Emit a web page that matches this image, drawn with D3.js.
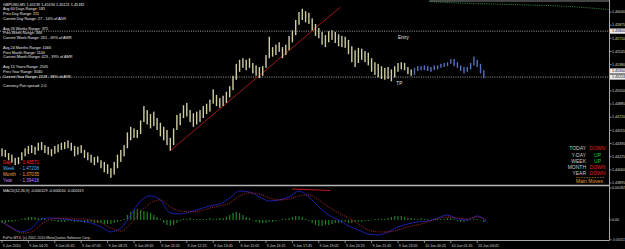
<!DOCTYPE html>
<html>
<head>
<meta charset="utf-8">
<script src="https://cdn.jsdelivr.net/npm/d3@7"></script>
<style>
  html, body { margin: 0; padding: 0; background: #000; }
  svg { display: block; font-family: "Liberation Sans", Arial, sans-serif; }
</style>
</head>
<body>
<svg id="chart" width="625" height="249"></svg>
<script>
// 10 minute bars, starting 9 Jun 2010 03:05
const barHigh = [
  1.4433,1.4431,1.4427,1.4425,1.4421,1.4422,1.4428,1.4433,1.4436,1.4437,
  1.4435,1.4440,1.4441,1.4437,1.4435,1.4432,1.4436,1.4438,1.4440,1.4441,
  1.4443,1.4440,1.4436,1.4435,1.4437,1.4431,1.4428,1.4425,1.4422,1.4423,
  1.4418,1.4416,1.4413,1.4408,1.4416,1.4425,1.4431,1.4437,1.4453,1.4460,
  1.4458,1.4456,1.4468,1.4486,1.4481,1.4476,1.4479,1.4471,1.4465,1.4460,
  1.4456,1.4446,1.4458,1.4475,1.4477,1.4487,1.4490,1.4481,1.4477,1.4479,
  1.4481,1.4486,1.4489,1.4494,1.4507,1.4500,1.4496,1.4499,1.4504,1.4511,
  1.4524,1.4539,1.4544,1.4546,1.4544,1.4546,1.4540,1.4537,1.4535,1.4536,
  1.4550,1.4573,1.4560,1.4563,1.4566,1.4560,1.4563,1.4574,1.4581,1.4594,
  1.4604,1.4608,1.4605,1.4603,1.4596,1.4589,1.4584,1.4579,1.4575,1.4580,
  1.4581,1.4579,1.4576,1.4574,1.4573,1.4569,1.4561,1.4556,1.4559,1.4558,
  1.4555,1.4553,1.4546,1.4541,1.4539,1.4536,1.4534,1.4535,1.4532,1.4536,
  1.4540,1.4541,1.4540,1.4535,1.4532,1.4534,1.4536,1.4536,1.4537,1.4536,
  1.4535,1.4537,1.4537,1.4539,1.4540,1.4541,1.4545,1.4545,1.4541,1.4537,
  1.4535,1.4535,1.4540,1.4548,1.4544,1.4539,1.4531
]
const barLow = [
  1.4423,1.4422,1.4418,1.4415,1.4412,1.4413,1.4418,1.4423,1.4426,1.4427,
  1.4425,1.4430,1.4431,1.4427,1.4425,1.4423,1.4426,1.4428,1.4431,1.4432,
  1.4433,1.4430,1.4423,1.4425,1.4427,1.4421,1.4418,1.4415,1.4412,1.4415,
  1.4408,1.4403,1.4401,1.4396,1.4400,1.4408,1.4416,1.4423,1.4433,1.4443,
  1.4446,1.4446,1.4451,1.4466,1.4463,1.4458,1.4461,1.4456,1.4448,1.4443,
  1.4437,1.4430,1.4437,1.4456,1.4462,1.4471,1.4473,1.4466,1.4460,1.4463,
  1.4466,1.4471,1.4476,1.4479,1.4489,1.4486,1.4484,1.4486,1.4490,1.4497,
  1.4506,1.4519,1.4529,1.4534,1.4531,1.4534,1.4527,1.4524,1.4521,1.4524,
  1.4534,1.4546,1.4548,1.4550,1.4554,1.4546,1.4550,1.4556,1.4566,1.4575,
  1.4588,1.4594,1.4591,1.4589,1.4581,1.4574,1.4571,1.4563,1.4560,1.4566,
  1.4569,1.4565,1.4561,1.4560,1.4559,1.4551,1.4541,1.4535,1.4540,1.4544,
  1.4541,1.4537,1.4529,1.4525,1.4522,1.4520,1.4519,1.4520,1.4517,1.4522,
  1.4529,1.4532,1.4531,1.4526,1.4524,1.4525,1.4530,1.4531,1.4531,1.4530,
  1.4529,1.4531,1.4532,1.4534,1.4535,1.4536,1.4539,1.4536,1.4534,1.4530,
  1.4527,1.4529,1.4532,1.4537,1.4535,1.4527,1.4521
]
// bars from this time on are drawn blue
const blueFrom = new Date(2010, 5, 9, 23, 55)

// MACD lines sampled every 30 minutes
const macdMain = [
  -0.00011,-0.00046,-0.00068,-0.00046,0.00006,0.00011,0.00006,0,-0.00006,-0.00017,
  -0.0004,-0.00068,-0.00046,0.00028,0.00108,0.00137,0.00114,0.0004,0.00034,0.00046,
  0.00063,0.0008,0.00091,0.00125,0.00165,0.00159,0.00131,0.00108,0.00114,0.00131,
  0.00165,0.00131,0.00074,0.00028,0,-0.00034,-0.00057,-0.0008,-0.00085,-0.00068,
  -0.0004,-0.00023,-0.00011,-0.00006,0.00011,0.00028,0.00006,0,0.00023,-0.00013
]
const macdSignal = [
  -0.00011,-0.00046,-0.00074,-0.00068,-0.00023,0.00006,0.00011,0.00006,0.00006,0,
  -0.00017,-0.00046,-0.00063,-0.00023,0.00046,0.00097,0.00114,0.00074,0.00051,0.00046,
  0.00051,0.00068,0.0008,0.00097,0.00137,0.00154,0.00148,0.00125,0.00114,0.00119,
  0.00137,0.00142,0.00114,0.00074,0.0004,0.00011,-0.00023,-0.00057,-0.00068,-0.00068,
  -0.00057,-0.0004,-0.00028,-0.00011,0.00006,0.00017,0.00011,0.00006,0.00017,-0.00001
]
// histogram, one value per 10 minute bar
const macdHist = [
  -0.00017,-0.00017,-0.00011,-0.00011,-0.00006,0,
  0.00006,0.00011,0.00017,0.00017,0.00017,0.00011,0.00011,
  0.00006,0,-0.00006,
  -0.00006,-0.00011,-0.00011,-0.00011,-0.00006,-0.00006,-0.00011,-0.00011,-0.00011,-0.00017,-0.00011,-0.00011,-0.00017,-0.00017,
  -0.00017,-0.00023,-0.00023,-0.00023,-0.00017,-0.00011,-0.00006,0.00006,
  0.00028,0.00046,0.00057,0.00063,0.00057,
  0.00051,0.00046,0.0004,0.00028,0.00017,
  0.00006,-0.00017,-0.00028,-0.00034,-0.00028,-0.00017,
  -0.00006,0.00006,0.00006,0.00011,0.00006,0.00006,0.00006,
  0.00006,0.00006,0.00011,0.00006,0.00006,0.00011,0.00011,0.00017,
  0.00028,0.0004,0.00046,0.0004,0.00028,
  0.00017,0.00011,0,
  -0.00011,-0.00017,-0.00017,-0.00017,-0.00011,-0.00011,-0.00006,0,
  0.00006,0.00006,0.00011,0.00017,0.00023,0.00023,
  0.00017,0.00006,-0.00006,
  -0.00017,-0.00028,-0.00034,-0.00034,-0.00028,-0.00028,-0.00023,
  -0.00017,-0.00017,-0.00017,-0.00011,-0.00017,-0.00017,-0.00011,-0.00011,-0.00011,-0.00006,-0.00006,
  0,0.00006,0.00006,0.00006,0.00006,0.00011,0.00017,0.00023,
  0.00023,0.00023,0.00017,0.00011,0.00011,0.00006,
  0.00006,0.00011,0.00006,0.00006,0,0.00006,0.00006,0.00006,
  0.00006,0.00011,0.00011,0.00006,-0.00006,-0.00011,-0.00011,-0.00006,0,0.00006,0.00006,0,-0.00012
]

// price axis ticks and the marked levels
const priceTicks = [1.46040,1.45875,1.45710,1.45545,1.45380,1.45215,1.45050,
  1.44885,1.44720,1.44555,1.44390,1.44225,1.44060,1.43895]
const macdTicks = [0.00182, 0, -0.00113]
const entryPrice = 1.45800
const tpPrice = 1.45224
const boxPrices = [1.45800, 1.45300, 1.45224]

// hand drawn objects
const trendLine = [
  {time: new Date(2010, 5, 9, 11, 35), price: 1.4430},
  {time: new Date(2010, 5, 9, 20, 10), price: 1.4610}
]
const macdTrend = [
  {time: new Date(2010, 5, 9, 17, 45), value: 0.00176},
  {time: new Date(2010, 5, 9, 19, 40), value: 0.00168}
]
const maLine = [
  {time: new Date(2010, 5, 10, 0, 40), price: 1.46172},
  {time: new Date(2010, 5, 10, 2, 5), price: 1.46153},
  {time: new Date(2010, 5, 10, 3, 30), price: 1.46143},
  {time: new Date(2010, 5, 10, 4, 45), price: 1.46134},
  {time: new Date(2010, 5, 10, 6, 0), price: 1.46125},
  {time: new Date(2010, 5, 10, 7, 15), price: 1.46115},
  {time: new Date(2010, 5, 10, 8, 30), price: 1.46096},
  {time: new Date(2010, 5, 10, 9, 45), price: 1.46071}
]

const infoLines = [
  'GBPUSD,M5  1.45139 1.45194 1.45121 1.45182',
  'Avg 60 Days Range: 181',
  'Prev Day Range: 211',
  'Current Day Range: 27 - 14% of ADR',
  '',
  'Avg 26 Weeks Range: 375',
  'Prev Week Range: 366',
  'Current Week Range: 261 - 69% of AWR',
  '',
  'Avg 24 Months Range: 1066',
  'Prev Month Range: 1104',
  'Current Month Range: 423 - 39% of AMR',
  '',
  'Avg 15 Years Range: 2505',
  'Prev Year Range: 3040',
  'Current Year Range: 2228 - 88% of AYR',
  '',
  'Currency Pair spread: 2.0'
]
const levelNames = ['Day', 'Week', 'Month', 'Year']
const levelValues = [1.43571, 1.47208, 1.37035, 1.39418]
const levelColors = ['#ff2a2a', '#3fb4ff', '#f0a040', '#c27cf0']

const moveNames = ['TODAY', 'Y-DAY', 'WEEK', 'MONTH', 'YEAR']
const moveValues = ['DOWN', 'UP', 'UP', 'DOWN', 'DOWN']

const svg = d3.select('#chart')
const W = 625, H = 249
const axisX = 609.5, bottomY = 240.5, sepY = 185.5

const t0 = new Date(2010, 5, 9, 3, 5)
const barTime = i => d3.timeMinute.offset(t0, i * 10)

// 1.65px per 5 minute bar
const x = d3.scaleTime()
  .domain([t0, d3.timeMinute.offset(t0, 368 * 5)])
  .range([2, 609.2])
const y = d3.scaleLinear().domain([1.43895, 1.46040]).range([183, 12])
const ym = d3.scaleLinear().domain([-0.00113, 0.00182]).range([239.8, 188])

svg.append('rect').attr('width', W).attr('height', H).attr('fill', '#000')

svg.append('clipPath').attr('id', 'clipPrice')
  .append('rect').attr('x', 0).attr('y', 0).attr('width', axisX).attr('height', sepY - 1)
svg.append('clipPath').attr('id', 'clipMacd')
  .append('rect').attr('x', 0).attr('y', sepY + 1).attr('width', axisX).attr('height', bottomY - sepY - 1)

const price = svg.append('g').attr('clip-path', 'url(#clipPrice)')

// entry / tp dotted levels
price.selectAll('.level')
  .data([entryPrice, tpPrice])
  .enter().append('line')
  .attr('x1', 0).attr('x2', axisX)
  .attr('y1', d => y(d)).attr('y2', d => y(d))
  .attr('stroke', '#cfcfcf').attr('stroke-width', 0.8)
  .attr('stroke-dasharray', '1,1.3')

// grey line and dotted MA at the top right
price.append('line')
  .attr('x1', x(maLine[0].time)).attr('x2', axisX)
  .attr('y1', y(1.46178)).attr('y2', y(1.46178))
  .attr('stroke', '#8a8a8a').attr('stroke-width', 1)

price.append('path')
  .datum(maLine)
  .attr('d', d3.line().x(d => x(d.time)).y(d => y(d.price)).curve(d3.curveMonotoneX))
  .attr('fill', 'none').attr('stroke', '#3c9a48').attr('stroke-width', 0.9)
  .attr('stroke-dasharray', '1,1.2')

// trend line
price.append('line')
  .attr('x1', x(trendLine[0].time)).attr('y1', y(trendLine[0].price))
  .attr('x2', x(trendLine[1].time)).attr('y2', y(trendLine[1].price))
  .attr('stroke', '#a01818').attr('stroke-width', 1)

// bars
price.selectAll('.bar')
  .data(barHigh.map((h, i) => ({time: barTime(i), high: h, low: barLow[i]})))
  .enter().append('rect')
  .attr('x', d => x(d.time) - 0.7)
  .attr('y', d => y(d.high))
  .attr('width', 1.4)
  .attr('height', d => Math.max(1, y(d.low) - y(d.high)))
  .attr('fill', d => d.time >= blueFrom ? '#5470c0' : '#cfcba2')

// Entry / TP labels
price.append('text')
  .attr('x', x(new Date(2010, 5, 9, 23, 5))).attr('y', y(entryPrice) + 6)
  .attr('font-size', 4.6).attr('fill', '#e6e6e6').attr('dy', '0.35em')
  .text('Entry')
price.append('text')
  .attr('x', x(new Date(2010, 5, 9, 23, 0))).attr('y', y(tpPrice) + 6)
  .attr('font-size', 4.6).attr('fill', '#e6e6e6').attr('dy', '0.35em')
  .text('TP')

// info block top left
svg.append('g').selectAll('text')
  .data(infoLines)
  .enter().append('text')
  .attr('x', 3)
  .attr('y', (d, i) => 4.2 + i * 4.8)
  .attr('dy', '0.35em')
  .attr('font-size', 3.8)
  .attr('fill', '#e8e8e8')
  .text(d => d)

// day / week / month / year levels bottom left
const lv = svg.append('g')
levelNames.forEach((name, i) => {
  lv.append('text')
    .attr('x', 3).attr('y', 162 + i * 6.1).attr('dy', '0.35em')
    .attr('font-size', 4.6).attr('fill', levelColors[i])
    .text(name)
  lv.append('text')
    .attr('x', 39).attr('y', 162 + i * 6.1).attr('dy', '0.35em')
    .attr('text-anchor', 'end')
    .attr('font-size', 4.6).attr('fill', levelColors[i])
    .text('- ' + levelValues[i].toFixed(5))
})

// main moves table bottom right
const mv = svg.append('g')
moveNames.forEach((name, i) => {
  mv.append('text')
    .attr('x', 586).attr('y', 148.5 + i * 6.25).attr('dy', '0.35em')
    .attr('text-anchor', 'end')
    .attr('font-size', 5).attr('fill', '#c8c8c8')
    .text(name)
  mv.append('text')
    .attr('x', 597.5).attr('y', 148.5 + i * 6.25).attr('dy', '0.35em')
    .attr('text-anchor', 'middle')
    .attr('font-size', 5).attr('fill', moveValues[i] === 'UP' ? '#2cc52c' : '#e02020')
    .text(moveValues[i])
})
mv.append('line')
  .attr('x1', 576).attr('x2', 604).attr('y1', 177.5).attr('y2', 177.5)
  .attr('stroke', '#d08a30').attr('stroke-width', 0.7).attr('stroke-dasharray', '0.8,0.8')
mv.append('text')
  .attr('x', 589.5).attr('y', 181.3).attr('dy', '0.35em')
  .attr('text-anchor', 'middle')
  .attr('font-size', 5).attr('fill', '#e09a38')
  .text('Main Moves')

// MACD panel
const macd = svg.append('g').attr('clip-path', 'url(#clipMacd)')

macd.selectAll('.hist')
  .data(macdHist.map((v, i) => ({time: barTime(i), value: v})))
  .enter().append('rect')
  .attr('x', d => x(d.time) - 0.6)
  .attr('y', d => Math.min(ym(0), ym(d.value)))
  .attr('width', 1.2)
  .attr('height', d => Math.max(0.5, Math.abs(ym(d.value) - ym(0))))
  .attr('fill', '#237f23')

const macdTime = i => d3.timeMinute.offset(t0, i * 30)

macd.append('path')
  .datum(macdMain)
  .attr('d', d3.line().x((d, i) => x(macdTime(i))).y(d => ym(d)).curve(d3.curveMonotoneX))
  .attr('fill', 'none').attr('stroke', '#2222c0').attr('stroke-width', 0.9)

macd.append('path')
  .datum(macdSignal)
  .attr('d', d3.line().x((d, i) => x(macdTime(i))).y(d => ym(d)).curve(d3.curveMonotoneX))
  .attr('fill', 'none').attr('stroke', '#e03030').attr('stroke-width', 0.8)
  .attr('stroke-dasharray', '1,1.2')

macd.append('line')
  .attr('x1', x(macdTrend[0].time)).attr('y1', ym(macdTrend[0].value))
  .attr('x2', x(macdTrend[1].time)).attr('y2', ym(macdTrend[1].value))
  .attr('stroke', '#c01818').attr('stroke-width', 1.1)

svg.append('text')
  .attr('x', 3).attr('y', 190.6).attr('dy', '0.35em')
  .attr('font-size', 3.8).attr('fill', '#e0e0e0')
  .text('MACD(12,26,9) -0.000129 -0.000010 -0.000119')
svg.append('text')
  .attr('x', 3).attr('y', 237.8).attr('dy', '0.35em')
  .attr('font-size', 3.6).attr('fill', '#d8d8d8')
  .text('FxPro MT4, (c) 2001-2010 MetaQuotes Software Corp.')

// frame
svg.append('line')
  .attr('x1', 0).attr('x2', axisX).attr('y1', sepY).attr('y2', sepY)
  .attr('stroke', '#b4b4b4').attr('stroke-width', 1.6)
svg.append('line')
  .attr('x1', axisX).attr('x2', axisX).attr('y1', 0).attr('y2', bottomY)
  .attr('stroke', '#a8a8a8').attr('stroke-width', 1)
svg.append('line')
  .attr('x1', 0).attr('x2', axisX).attr('y1', bottomY).attr('y2', bottomY)
  .attr('stroke', '#a8a8a8').attr('stroke-width', 1)

// price axis
const pa = svg.append('g')
pa.selectAll('line')
  .data(priceTicks)
  .enter().append('line')
  .attr('x1', axisX).attr('x2', axisX + 2)
  .attr('y1', d => y(d)).attr('y2', d => y(d))
  .attr('stroke', '#a8a8a8').attr('stroke-width', 0.8)
pa.selectAll('text')
  .data(priceTicks)
  .enter().append('text')
  .attr('x', 612).attr('y', d => y(d)).attr('dy', '0.35em')
  .attr('font-size', 3.6).attr('fill', '#d8d8d8')
  .text(d => d.toFixed(5))

// highlighted price boxes
const pb = svg.append('g').selectAll('g')
  .data(boxPrices)
  .enter().append('g')
pb.append('rect')
  .attr('x', axisX + 0.5).attr('y', d => y(d) - 2.6)
  .attr('width', 15).attr('height', 5.2)
  .attr('fill', '#ececec')
pb.append('text')
  .attr('x', 612).attr('y', d => y(d)).attr('dy', '0.35em')
  .attr('font-size', 3.6).attr('fill', '#000')
  .text(d => d.toFixed(5))

// macd axis
const ma = svg.append('g')
ma.selectAll('line')
  .data(macdTicks)
  .enter().append('line')
  .attr('x1', axisX).attr('x2', axisX + 2)
  .attr('y1', d => ym(d)).attr('y2', d => ym(d))
  .attr('stroke', '#a8a8a8').attr('stroke-width', 0.8)
ma.selectAll('text')
  .data(macdTicks)
  .enter().append('text')
  .attr('x', 612).attr('y', d => ym(d)).attr('dy', '0.35em')
  .attr('font-size', 3.6).attr('fill', '#d8d8d8')
  .text(d => d === 0 ? '0.00' : d.toFixed(5))

// time axis, a label every 80 minutes
const timeTicks = d3.range(19).map(k => d3.timeMinute.offset(t0, k * 80))
const fmt = d3.timeFormat('%-d %b %H:%M')
const ta = svg.append('g')
ta.selectAll('line')
  .data(timeTicks)
  .enter().append('line')
  .attr('x1', d => x(d)).attr('x2', d => x(d))
  .attr('y1', bottomY).attr('y2', bottomY + 2.5)
  .attr('stroke', '#a8a8a8').attr('stroke-width', 0.8)
ta.selectAll('text')
  .data(timeTicks)
  .enter().append('text')
  .attr('x', d => x(d) + 0.8).attr('y', 246.2).attr('dy', '0.35em')
  .attr('font-size', 3.6).attr('fill', '#d8d8d8')
  .text((d, i) => i === 0 ? '9 Jun 2010' : fmt(d))
</script>
</body>
</html>
